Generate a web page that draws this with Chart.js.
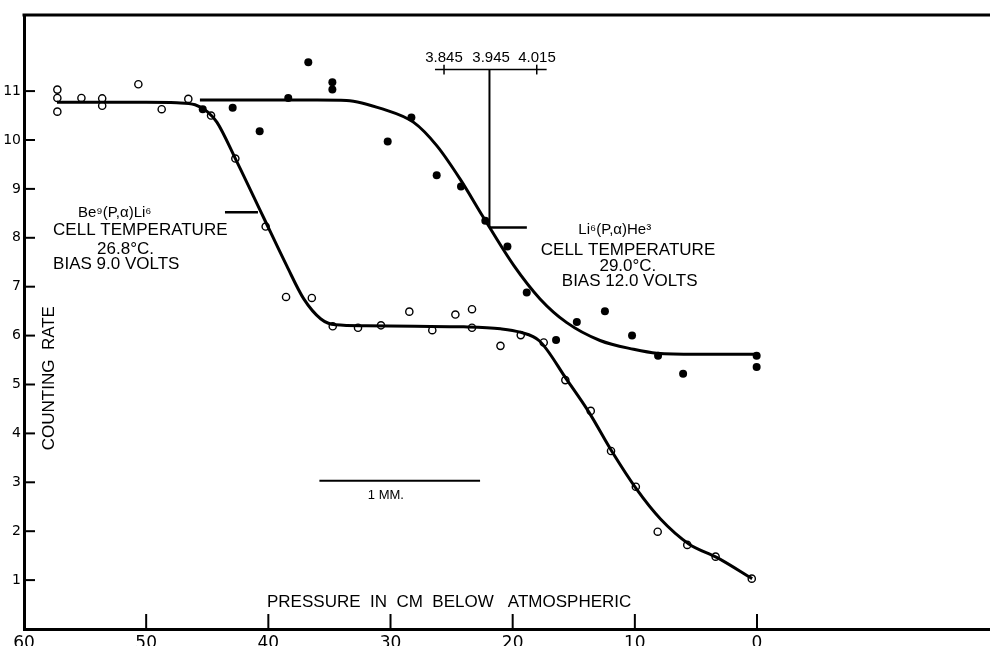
<!DOCTYPE html>
<html>
<head>
<meta charset="utf-8">
<script src="https://cdn.jsdelivr.net/npm/chart.js@4.4.0/dist/chart.umd.min.js"></script>
<style>
  html, body { margin: 0; padding: 0; background: #fff; }
  #wrap { width: 990px; height: 646px; }
</style>
</head>
<body>
<div id="wrap"><canvas id="chart" width="990" height="646"></canvas></div>
<script>
// tick labels
const xTicks = [60, 50, 40, 30, 20, 10, 0];
const yTicks = [1, 2, 3, 4, 5, 6, 7, 8, 9, 10, 11];

// Be9(p,a)Li6 - open circles
const beX = [57.27, 57.27, 57.27, 55.3, 53.6, 53.6, 50.64, 48.73, 46.55, 44.69, 42.7, 40.22, 38.55, 36.44,
  34.73, 32.66, 30.78, 28.46, 26.58, 24.69, 23.33, 23.33, 21.0, 19.34, 17.46, 15.69, 13.61, 11.95,
  9.92, 8.13, 5.71, 3.39, 0.43];
const beY = [11.03, 10.86, 10.58, 10.86, 10.85, 10.70, 11.14, 10.63, 10.84, 10.50, 9.62, 8.23, 6.79, 6.77,
  6.19, 6.16, 6.21, 6.49, 6.11, 6.43, 6.54, 6.16, 5.79, 6.01, 5.86, 5.09, 4.46, 3.64,
  2.91, 1.99, 1.72, 1.48, 1.03];

// Li6(p,a)He3 - filled circles
const liX = [45.37, 42.92, 40.71, 38.37, 36.73, 34.76, 34.76, 30.23, 28.29, 26.22, 24.23, 22.24, 20.43,
  18.85, 16.45, 14.75, 12.45, 10.23, 8.10, 6.05, 0.03, 0.03];
const liY = [10.63, 10.66, 10.18, 10.86, 11.59, 11.18, 11.03, 9.97, 10.46, 9.28, 9.05, 8.35, 7.82,
  6.88, 5.91, 6.28, 6.50, 6.00, 5.59, 5.22, 5.59, 5.36];

// drawn curves through the points
const beFitX = [57.3, 50, 47.5, 46, 45, 44.2, 42.7, 40.4, 38.5, 37.1, 35.7, 34.5, 32, 28, 24, 21, 19.4,
  17.8, 15.6, 13.75, 11.9, 9.86, 7.9, 5.58, 3.26, 0.4];
const beFitY = [10.77, 10.77, 10.76, 10.72, 10.58, 10.36, 9.62, 8.42, 7.43, 6.75, 6.34, 6.22, 6.2, 6.19,
  6.18, 6.14, 6.07, 5.89, 5.11, 4.43, 3.64, 2.86, 2.25, 1.74, 1.46, 1.03];
const liFitX = [45.6, 36, 33.6, 30.6, 28.1, 26.2, 24.3, 22.4, 19.9, 17.76, 15.6, 12.85, 10.1, 8.2, 5, 0.03];
const liFitY = [10.82, 10.82, 10.81, 10.63, 10.36, 9.88, 9.2, 8.42, 7.43, 6.75, 6.27, 5.9, 5.72, 5.64, 5.62, 5.62];

// energy bracket labels
const bracketLabels = ['3.845', '3.945', '4.015'];
const bracketX = [25.62, 21.77, 18.01];

const pts = (xs, ys) => xs.map((x, i) => ({ x: x, y: ys[i] }));
const FONT = '"Liberation Sans", Arial, sans-serif';

const overlay = {
  id: 'overlay',
  afterDraw(chart) {
    const { ctx, chartArea: a, scales: { x, y } } = chart;
    const px = v => x.getPixelForValue(v);
    const py = v => y.getPixelForValue(v);
    const line = (x1, y1, x2, y2, w) => {
      ctx.lineWidth = w;
      ctx.beginPath();
      ctx.moveTo(x1, y1);
      ctx.lineTo(x2, y2);
      ctx.stroke();
    };
    const text = (s, vx, vy, size, align) => {
      ctx.font = size + 'px ' + FONT;
      ctx.textAlign = align || 'left';
      ctx.textBaseline = 'middle';
      ctx.fillText(s, px(vx), py(vy));
    };
    ctx.save();
    ctx.strokeStyle = '#000';
    ctx.fillStyle = '#000';

    // top frame line
    line(a.left - 1.5, a.top, a.right, a.top, 3);

    // inward tick marks
    yTicks.forEach(v => line(a.left, py(v), a.left + 11, py(v), 2));
    xTicks.forEach(v => line(px(v), a.bottom, px(v), a.bottom - 15, 2));

    // Be9 label and marker
    line(px(43.55), py(8.52), px(40.85), py(8.52), 2.5);
    text('Be⁹(P,α)Li⁶', 55.58, 8.52, 15);
    text('CELL TEMPERATURE', 57.62, 8.15, 17);
    text('26.8°C.', 54.02, 7.77, 17);
    text('BIAS 9.0 VOLTS', 57.62, 7.46, 17);

    // Li6 label and marker
    text('Li⁶(P,α)He³', 14.63, 8.16, 15);
    text('CELL TEMPERATURE', 17.70, 7.75, 17);
    text('29.0°C.', 12.90, 7.41, 17);
    text('BIAS 12.0 VOLTS', 15.98, 7.10, 17);

    // energy bracket
    line(px(26.36), py(11.44), px(17.22), py(11.44), 1.5);
    line(px(25.62), py(11.34), px(25.62), py(11.54), 1.5);
    line(px(18.03), py(11.34), px(18.03), py(11.54), 1.5);
    line(px(21.9), py(11.44), px(21.9), py(8.21), 2);
    line(px(21.9), py(8.21), px(18.84), py(8.21), 2.5);
    bracketLabels.forEach((s, i) => text(s, bracketX[i], 11.68, 15, 'center'));

    // 1 mm scale bar
    line(px(35.82), py(3.03), px(22.67), py(3.03), 2);
    text('1 MM.', 30.38, 2.74, 13, 'center');

    // axis titles
    text('PRESSURE  IN  CM  BELOW   ATMOSPHERIC', 40.11, 0.54, 17);
    ctx.translate(px(57.95), py(5.13));
    ctx.rotate(-Math.PI / 2);
    ctx.font = '17px ' + FONT;
    ctx.textAlign = 'center';
    ctx.textBaseline = 'middle';
    ctx.fillText('COUNTING  RATE', 0, 0);
    ctx.restore();
  }
};

new Chart(document.getElementById('chart'), {
  type: 'scatter',
  data: {
    datasets: [
      {
        data: pts(beFitX, beFitY), showLine: true, pointRadius: 0, borderColor: '#000',
        borderWidth: 3, cubicInterpolationMode: 'monotone', fill: false
      },
      {
        data: pts(liFitX, liFitY), showLine: true, pointRadius: 0, borderColor: '#000',
        borderWidth: 3, cubicInterpolationMode: 'monotone', fill: false
      },
      {
        data: pts(beX, beY), pointRadius: 3.6, pointBorderWidth: 1.4,
        pointBorderColor: '#000', pointBackgroundColor: 'rgba(0,0,0,0)'
      },
      {
        data: pts(liX, liY), pointRadius: 4, pointBorderWidth: 0,
        pointBackgroundColor: '#000', pointBorderColor: '#000'
      }
    ]
  },
  options: {
    responsive: false,
    animation: false,
    devicePixelRatio: 1,
    layout: { autoPadding: false, padding: { top: 15, right: 0, left: 0, bottom: 0 } },
    plugins: { legend: { display: false }, tooltip: { enabled: false } },
    scales: {
      x: {
        type: 'linear', reverse: true, min: -19.07, max: 60,
        grid: { display: false, drawTicks: false },
        border: { display: true, width: 3, color: '#000' },
        ticks: { color: '#000', font: { family: '"DejaVu Sans"', size: 17 }, padding: 4, maxRotation: 0, autoSkip: false },
        afterBuildTicks: s => { s.ticks = xTicks.map(v => ({ value: v })); },
        afterFit: s => { s.height = 17; s.paddingLeft = 0; s.paddingRight = 0; }
      },
      y: {
        type: 'linear', min: 0, max: 12.556,
        grid: { display: false, drawTicks: false },
        border: { display: true, width: 3, color: '#000' },
        ticks: { color: '#000', font: { family: '"DejaVu Sans"', size: 14 }, padding: 3 },
        afterBuildTicks: s => { s.ticks = yTicks.map(v => ({ value: v })); },
        afterFit: s => { s.width = 24; s.paddingTop = 0; s.paddingBottom = 0; }
      }
    }
  },
  plugins: [overlay]
});
</script>
</body>
</html>
